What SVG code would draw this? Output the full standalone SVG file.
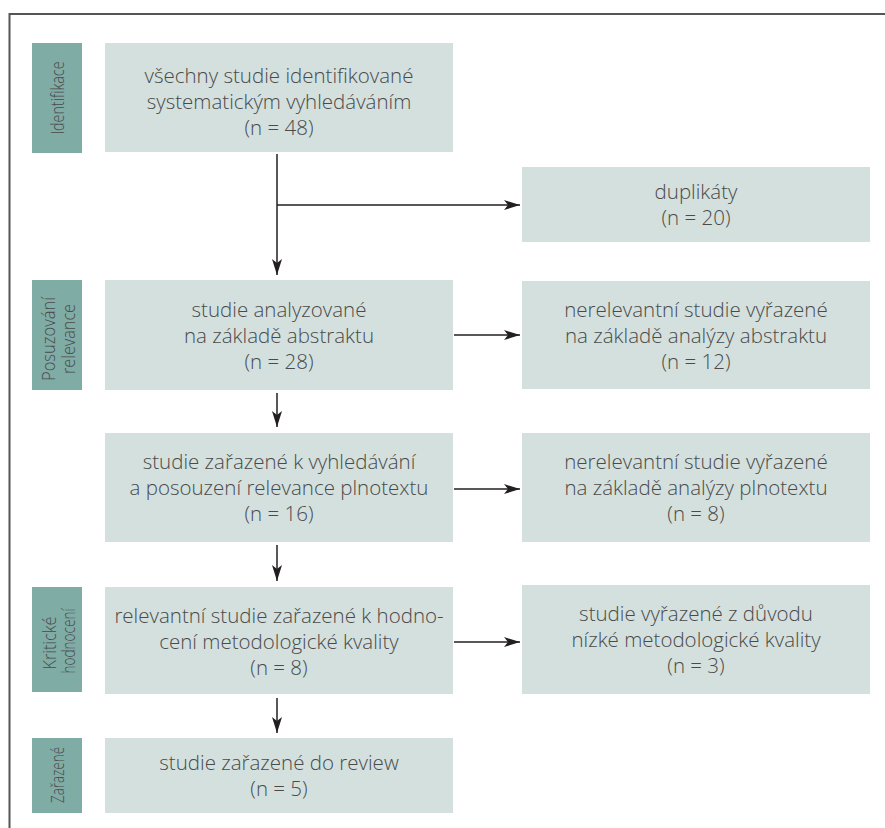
<svg xmlns="http://www.w3.org/2000/svg" width="885" height="828" viewBox="0 0 885 828">
<style>
.box{fill:#d3e0de}
.side{fill:#80aca6}
.t{font-family:"Open Sans","Liberation Sans",sans-serif;font-weight:300;font-size:20.5px;fill:#4a4a4a;text-anchor:middle}
.s{font-family:"Open Sans","Liberation Sans",sans-serif;font-weight:300;font-size:19px;fill:#4a4a4a;text-anchor:middle}
.c{stroke:#231f20;stroke-width:1.5;fill:none}
</style>
<defs>
<marker id="ah" viewBox="0 0 16 10" refX="16" refY="5" markerWidth="16" markerHeight="10" markerUnits="userSpaceOnUse" orient="auto">
<path d="M0,0 L16,5 L0,10 L4,5 Z" fill="#231f20"/>
</marker>
</defs>
<rect width="885" height="828" fill="#fff"/>
<path d="M9.5,828 V14 H885" stroke="#555" stroke-width="2" fill="none"/>

<g id="lbl-identifikace">
<rect class="side" x="32" y="43" width="50" height="110"/>
<text class="s" transform="translate(64,98) rotate(-90)" textLength="73" lengthAdjust="spacingAndGlyphs">Identifikace</text>
</g>
<g id="lbl-posuzovani">
<rect class="side" x="32" y="280" width="50" height="110"/>
<text class="s" transform="translate(55,339) rotate(-90)" textLength="84" lengthAdjust="spacingAndGlyphs">Posuzování</text>
<text class="s" transform="translate(75,339) rotate(-90)" textLength="70" lengthAdjust="spacingAndGlyphs">relevance</text>
</g>
<g id="lbl-kriticke">
<rect class="side" x="32" y="587" width="50" height="105"/>
<text class="s" transform="translate(56,643) rotate(-90)" textLength="53" lengthAdjust="spacingAndGlyphs">Kritické</text>
<text class="s" transform="translate(75,641) rotate(-90)" textLength="65" lengthAdjust="spacingAndGlyphs">hodnocení</text>
</g>
<g id="lbl-zarazene">
<rect class="side" x="32" y="738" width="50" height="75"/>
<text class="s" transform="translate(64,775) rotate(-90)" textLength="56" lengthAdjust="spacingAndGlyphs">Zařazené</text>
</g>

<g id="n1">
<rect class="box" x="105" y="43" width="348" height="109"/>
<text class="t" x="279" y="83">všechny studie identifikované</text>
<text class="t" x="279" y="109">systematickým vyhledáváním</text>
<text class="t" x="279" y="135">(n = 48)</text>
</g>
<g id="n2">
<rect class="box" x="522" y="167" width="348" height="75"/>
<text class="t" x="696" y="199">duplikáty</text>
<text class="t" x="696" y="225">(n = 20)</text>
</g>
<g id="n3">
<rect class="box" x="105" y="280" width="348" height="110"/>
<text class="t" x="279" y="317">studie analyzované</text>
<text class="t" x="279" y="343">na základě abstraktu</text>
<text class="t" x="279" y="369">(n = 28)</text>
</g>
<g id="n4">
<rect class="box" x="522" y="281" width="348" height="108"/>
<text class="t" x="696" y="317">nerelevantní studie vyřazené</text>
<text class="t" x="696" y="343">na základě analýzy abstraktu</text>
<text class="t" x="696" y="369">(n = 12)</text>
</g>
<g id="n5">
<rect class="box" x="105" y="433" width="348" height="109"/>
<text class="t" x="279" y="469">studie zařazené k vyhledávání</text>
<text class="t" x="279" y="495">a posouzení relevance plnotextu</text>
<text class="t" x="279" y="521">(n = 16)</text>
</g>
<g id="n6">
<rect class="box" x="522" y="433" width="348" height="109"/>
<text class="t" x="696" y="469">nerelevantní studie vyřazené</text>
<text class="t" x="696" y="495">na základě analýzy plnotextu</text>
<text class="t" x="696" y="521">(n = 8)</text>
</g>
<g id="n7">
<rect class="box" x="105" y="587" width="348" height="107"/>
<text class="t" x="279" y="623">relevantní studie zařazené k hodno-</text>
<text class="t" x="279" y="649">cení metodologické kvality</text>
<text class="t" x="279" y="675">(n = 8)</text>
</g>
<g id="n8">
<rect class="box" x="522" y="585" width="348" height="109"/>
<text class="t" x="696" y="621">studie vyřazené z důvodu</text>
<text class="t" x="696" y="647">nízké metodologické kvality</text>
<text class="t" x="696" y="673">(n = 3)</text>
</g>
<g id="n9">
<rect class="box" x="105" y="738" width="348" height="75"/>
<text class="t" x="279" y="770">studie zařazené do review</text>
<text class="t" x="279" y="796">(n = 5)</text>
</g>

<g id="connectors">
<path class="c" d="M277,154 V275" marker-end="url(#ah)"/>
<path class="c" d="M277,205 H520" marker-end="url(#ah)"/>
<path class="c" d="M454,335 H520" marker-end="url(#ah)"/>
<path class="c" d="M277,393 V427" marker-end="url(#ah)"/>
<path class="c" d="M454,489 H520" marker-end="url(#ah)"/>
<path class="c" d="M277,545 V581" marker-end="url(#ah)"/>
<path class="c" d="M454,642 H520" marker-end="url(#ah)"/>
<path class="c" d="M277,698 V733" marker-end="url(#ah)"/>
</g>
</svg>
